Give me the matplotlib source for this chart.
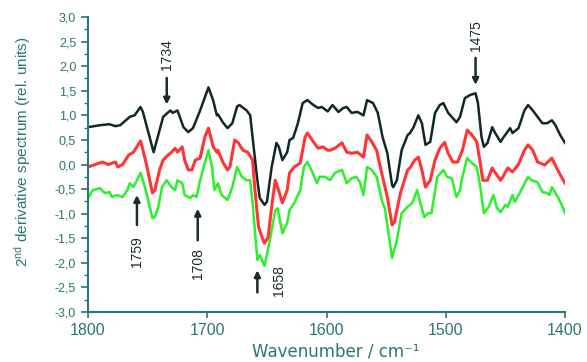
import matplotlib
matplotlib.use("Agg")
import matplotlib.pyplot as plt
from matplotlib.ticker import MultipleLocator, FuncFormatter

plt.rcParams["font.family"] = ["Liberation Sans", "DejaVu Sans"]
plt.rcParams["mathtext.default"] = "regular"

# black trace
wn_black = [1800, 1790, 1782, 1777, 1773, 1765, 1761, 1756, 1754, 1745, 1737, 1731, 1729, 1725,
            1720, 1716, 1712, 1706, 1699, 1695, 1692, 1691, 1687, 1683, 1679, 1675, 1673, 1667,
            1664, 1662, 1658, 1656, 1652, 1650, 1646, 1642, 1640, 1637, 1633, 1631, 1628, 1624,
            1620, 1616, 1611, 1607, 1604, 1599, 1595, 1590, 1586, 1583, 1579, 1574, 1569, 1566,
            1561, 1557, 1553, 1549, 1545, 1544, 1541, 1537, 1532, 1530, 1527, 1523, 1520, 1517,
            1513, 1509, 1505, 1502, 1498, 1495, 1491, 1488, 1484, 1480, 1475, 1473, 1470, 1468,
            1465, 1461, 1459, 1454, 1452, 1446, 1444, 1439, 1434, 1431, 1427, 1419, 1415, 1411,
            1408, 1404, 1400]
y_black = [0.76, 0.80, 0.82, 0.78, 0.80, 0.97, 1.00, 1.17, 1.07, 0.25, 0.97, 1.10, 1.05, 1.10,
           0.76, 0.66, 0.74, 1.10, 1.57, 1.30, 1.00, 1.02, 0.86, 0.74, 0.84, 1.18, 1.21, 1.10,
           1.00, 0.55, -0.32, -0.68, -0.82, -0.76, -0.05, 0.44, 0.36, 0.09, 0.25, 0.50, 0.54, 0.84,
           1.25, 1.31, 1.21, 1.15, 1.17, 1.08, 1.21, 1.07, 1.15, 1.17, 1.05, 1.07, 1.00, 1.31,
           1.25, 1.05, 0.56, 0.23, -0.42, -0.46, -0.32, 0.29, 0.60, 0.64, 0.76, 1.00, 0.84, 0.40,
           0.46, 1.05, 1.21, 1.25, 1.05, 0.97, 0.86, 0.97, 1.35, 1.41, 1.45, 1.25, 0.56, 0.36,
           0.44, 0.76, 0.66, 0.46, 0.54, 0.74, 0.64, 0.74, 1.10, 1.21, 1.10, 0.84, 0.84, 0.90,
           0.80, 0.60, 0.44]

# red trace
wn_red = [1800, 1794, 1788, 1783, 1777, 1775, 1771, 1766, 1762, 1759, 1756, 1754, 1751, 1746,
          1744, 1740, 1737, 1733, 1730, 1727, 1725, 1721, 1719, 1716, 1713, 1710, 1706, 1702,
          1699, 1695, 1692, 1691, 1687, 1683, 1681, 1677, 1674, 1670, 1666, 1662, 1660, 1657,
          1654, 1652, 1649, 1646, 1643, 1641, 1637, 1633, 1631, 1627, 1622, 1618, 1616, 1611,
          1607, 1603, 1599, 1597, 1593, 1587, 1583, 1579, 1574, 1569, 1566, 1562, 1558, 1553,
          1549, 1545, 1543, 1538, 1532, 1530, 1526, 1523, 1520, 1517, 1513, 1509, 1505, 1501,
          1498, 1494, 1490, 1486, 1482, 1478, 1474, 1471, 1469, 1465, 1461, 1459, 1454, 1452,
          1448, 1444, 1439, 1434, 1431, 1427, 1423, 1417, 1411, 1407, 1404, 1400]
y_red = [-0.05, 0.00, 0.05, 0.00, 0.05, -0.05, 0.00, 0.19, 0.25, 0.36, 0.48, 0.30, 0.00, -0.58,
         -0.52, -0.11, 0.09, 0.19, 0.25, 0.33, 0.25, 0.36, 0.09, -0.11, -0.11, 0.09, 0.13, 0.56,
         0.74, 0.36, 0.25, 0.29, 0.05, -0.11, -0.05, 0.50, 0.44, 0.29, 0.25, 0.09, -0.52, -1.27,
         -1.48, -1.60, -1.48, -0.86, -0.32, -0.46, -0.78, -0.52, -0.17, -0.05, 0.03, 0.56, 0.64, 0.46,
         0.33, 0.36, 0.29, 0.29, 0.33, 0.44, 0.25, 0.23, 0.25, 0.15, 0.60, 0.46, 0.29, -0.25,
         -0.66, -1.23, -1.17, -0.58, -0.11, -0.07, 0.09, 0.15, -0.11, -0.46, -0.32, 0.09, 0.33, 0.45,
         0.23, 0.05, 0.05, 0.29, 0.70, 0.60, 0.46, 0.03, -0.32, -0.32, -0.07, -0.15, -0.32, -0.25,
         -0.07, -0.15, 0.00, 0.29, 0.40, 0.29, 0.05, -0.01, 0.13, -0.07, -0.21, -0.38]

# green trace
wn_green = [1800, 1796, 1790, 1786, 1782, 1780, 1776, 1771, 1767, 1765, 1762, 1759, 1756, 1754,
            1751, 1746, 1744, 1741, 1738, 1734, 1730, 1727, 1725, 1721, 1719, 1714, 1712, 1709,
            1706, 1703, 1699, 1696, 1694, 1691, 1688, 1683, 1679, 1675, 1671, 1667, 1664, 1662,
            1658, 1656, 1652, 1647, 1643, 1641, 1637, 1633, 1631, 1627, 1622, 1619, 1616, 1612,
            1608, 1606, 1601, 1597, 1593, 1587, 1583, 1579, 1575, 1572, 1569, 1566, 1562, 1558,
            1553, 1551, 1548, 1545, 1541, 1537, 1532, 1528, 1524, 1522, 1518, 1515, 1512, 1507,
            1502, 1499, 1495, 1491, 1488, 1486, 1482, 1478, 1474, 1471, 1468, 1464, 1460, 1457,
            1454, 1450, 1448, 1444, 1442, 1438, 1431, 1428, 1423, 1419, 1415, 1413, 1411, 1406,
            1402, 1400]
y_green = [-0.68, -0.52, -0.48, -0.58, -0.56, -0.66, -0.62, -0.66, -0.52, -0.38, -0.46, -0.32, -0.17, -0.32,
           -0.58, -1.09, -1.07, -0.86, -0.46, -0.32, -0.46, -0.52, -0.32, -0.38, -0.62, -0.68, -0.62, -0.66,
           -0.32, -0.05, 0.29, -0.05, -0.52, -0.38, -0.62, -0.72, -0.46, -0.05, -0.25, -0.32, -0.32, -0.78,
           -1.94, -1.84, -2.06, -1.48, -0.93, -0.89, -1.40, -1.19, -0.93, -0.78, -0.52, -0.05, 0.05, -0.15,
           -0.38, -0.25, -0.25, -0.32, -0.17, -0.11, -0.38, -0.28, -0.25, -0.36, -0.62, -0.05, -0.11, -0.25,
           -0.78, -0.89, -1.40, -1.90, -1.54, -0.99, -0.86, -0.78, -0.52, -0.72, -1.07, -0.99, -0.99, -0.25,
           -0.11, -0.25, -0.28, -0.66, -0.52, -0.25, 0.13, 0.03, -0.05, -0.46, -0.99, -0.86, -0.62, -0.89,
           -0.97, -0.82, -0.86, -0.62, -0.76, -0.58, -0.25, -0.32, -0.36, -0.56, -0.58, -0.62, -0.46, -0.66,
           -0.86, -0.99]

# peak markers: label, arrow head y, arrow tail y, text position
peak_labels = ["1734", "1475", "1759", "1708", "1658"]
peak_wn = [1734, 1475, 1759, 1708, 1658]
arrow_head = [1.22, 1.62, -0.62, -0.90, -2.15]
arrow_tail = [1.76, 2.17, -1.23, -1.54, -2.60]
text_wn = [1734, 1475, 1759, 1708, 1640]
text_y = [2.23, 2.62, -1.78, -2.02, -2.35]

axis_col = "#2a7676"
mark_col = "#1a2c2c"

fig = plt.figure(figsize=(5.87, 3.62), dpi=100)
ax = fig.add_axes([0.150, 0.138, 0.8125, 0.815])

ax.plot(wn_green, y_green, color="#2cf02c", lw=1.8)
ax.plot(wn_red, y_red, color="#ff3535", lw=2.2)
ax.plot(wn_black, y_black, color="#102828", lw=1.8)

for lab, x, yh, yt, tx, ty in zip(peak_labels, peak_wn, arrow_head, arrow_tail, text_wn, text_y):
    ax.annotate("", xy=(x, yh), xytext=(x, yt),
                arrowprops=dict(arrowstyle="-|>", color=mark_col, lw=1.8, mutation_scale=9,
                                shrinkA=0, shrinkB=0))
    ax.text(tx, ty, lab, rotation=90, ha="center", va="center", fontsize=10,
            color=mark_col, family=["Liberation Sans Narrow", "Liberation Sans"])

ax.set_xlim(1800, 1400)
ax.set_ylim(-3.0, 3.0)
ax.xaxis.set_major_locator(MultipleLocator(100))
ax.yaxis.set_major_locator(MultipleLocator(0.5))
ax.yaxis.set_minor_locator(MultipleLocator(0.25))
ax.yaxis.set_major_formatter(FuncFormatter(lambda v, p: f"{v:.1f}".replace(".", ",")))

for side in ["top", "right"]:
    ax.spines[side].set_visible(False)
for side in ["left", "bottom"]:
    ax.spines[side].set_color(axis_col)
    ax.spines[side].set_linewidth(1.5)

ax.tick_params(axis="x", direction="out", length=4, width=1.2, colors=axis_col,
               labelsize=11.5, pad=4)
ax.tick_params(axis="y", which="major", direction="out", length=5, width=1.2,
               colors=axis_col, labelsize=9)
ax.tick_params(axis="y", which="minor", direction="out", length=3, width=1.0, colors=axis_col)

fig.text(336 / 587, 0.014, "Wavenumber / cm\u207b\u00b9", fontsize=12, color=axis_col,
         ha="center", va="baseline", family=["DejaVu Sans"])
fig.text(23 / 587, 1 - 152 / 362, "2$^{nd}$ derivative spectrum (rel. units)", fontsize=11,
         color=axis_col, rotation=90, ha="center", va="center")

fig.savefig("out.png", dpi=100)
